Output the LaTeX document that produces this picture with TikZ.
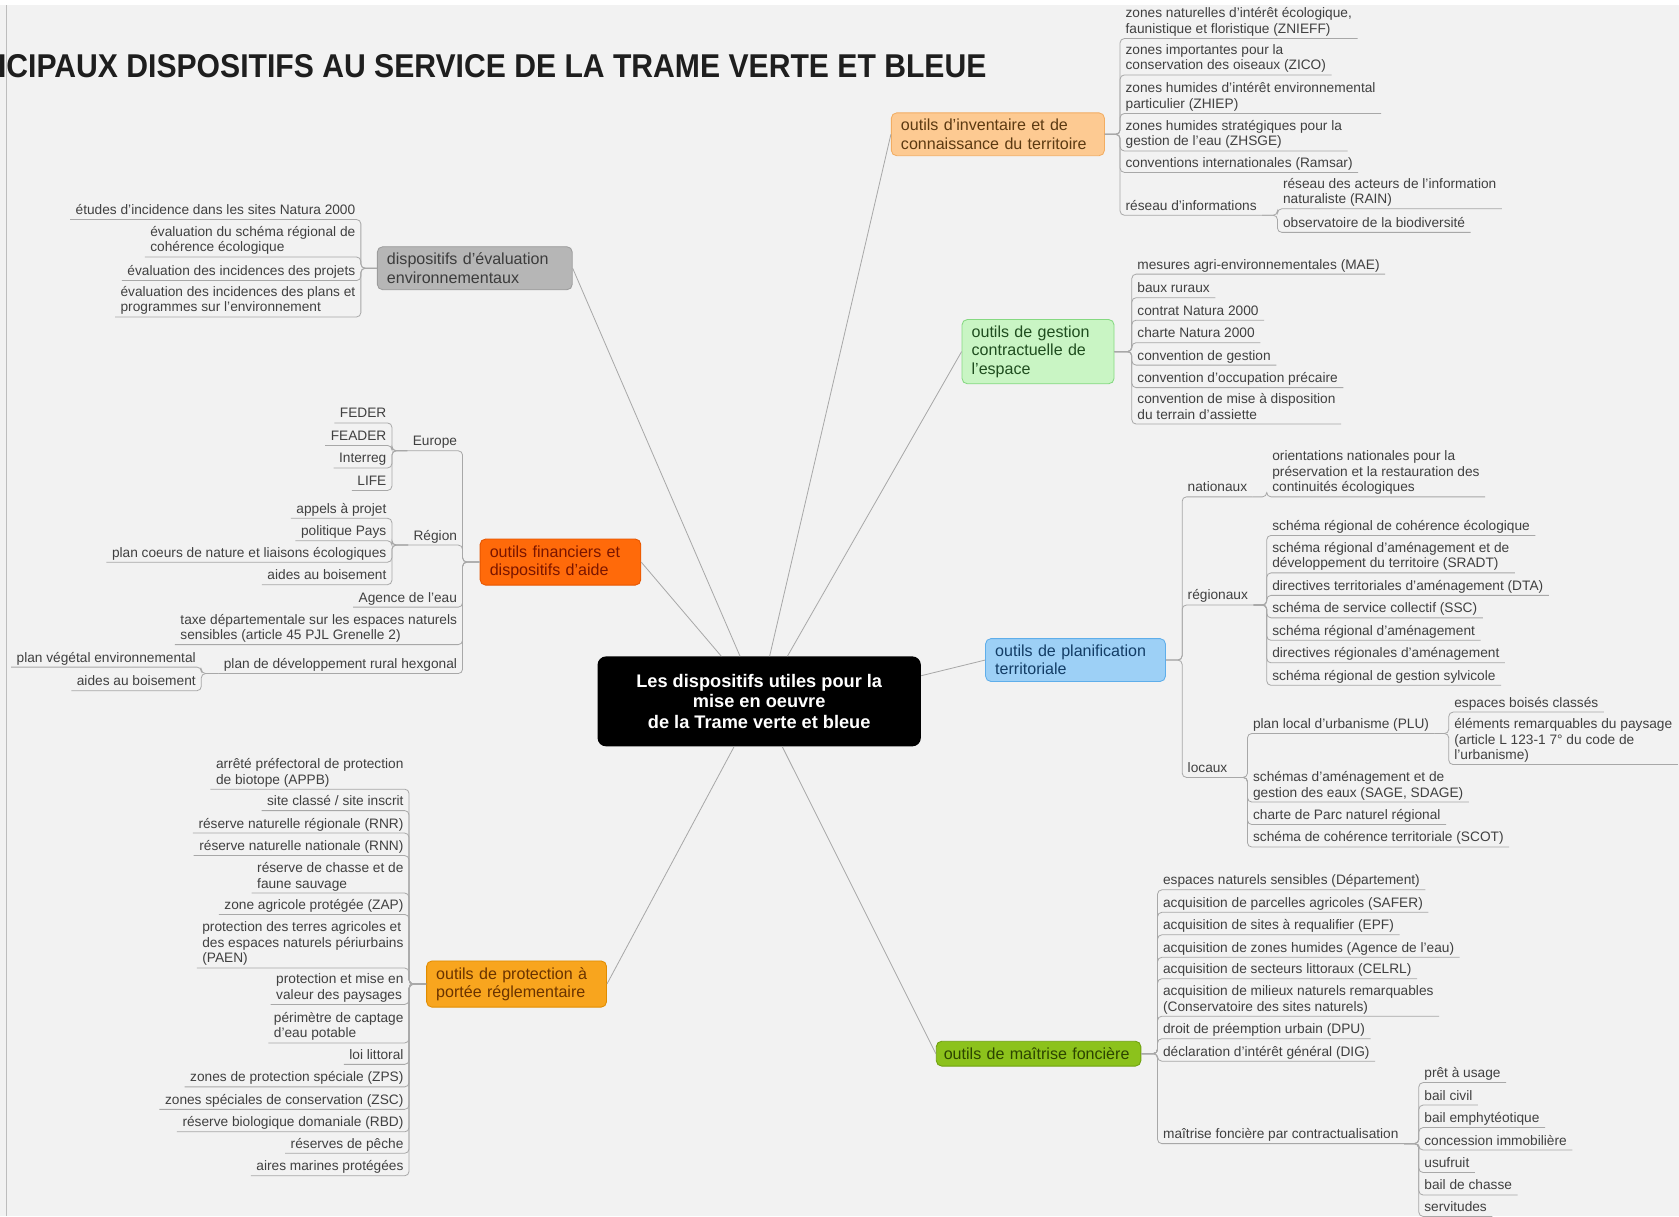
\documentclass[tikz,border=0pt]{standalone}
\usepackage{fontspec}
\usepackage{graphicx}
\setmainfont{Liberation Sans}
\usetikzlibrary{positioning}

\definecolor{bgfill}{HTML}{F2F2F2}
\definecolor{edgegray}{HTML}{BDBDBD}
\definecolor{linegray}{HTML}{A8A8A8}
\definecolor{leafgray}{HTML}{404040}
\definecolor{titlegray}{HTML}{1E1E1E}
\definecolor{evalfill}{HTML}{B6B6B6}
\definecolor{evaldraw}{HTML}{9C9C9C}
\definecolor{evaltext}{HTML}{3C3C3C}
\definecolor{invfill}{HTML}{FDCA92}
\definecolor{invdraw}{HTML}{F2AD62}
\definecolor{invtext}{HTML}{5C3A12}
\definecolor{gesfill}{HTML}{C9F5C4}
\definecolor{gesdraw}{HTML}{86D982}
\definecolor{gestext}{HTML}{1F4D1F}
\definecolor{finfill}{HTML}{FF6A0A}
\definecolor{findraw}{HTML}{E65500}
\definecolor{fintext}{HTML}{7A1500}
\definecolor{plafill}{HTML}{9DD0F6}
\definecolor{pladraw}{HTML}{5FAEEA}
\definecolor{platext}{HTML}{133D66}
\definecolor{profill}{HTML}{F8A51E}
\definecolor{prodraw}{HTML}{E08C00}
\definecolor{protext}{HTML}{6A3300}
\definecolor{maifill}{HTML}{8CC21C}
\definecolor{maidraw}{HTML}{6FA10E}
\definecolor{maitext}{HTML}{2C4500}

\newcommand{\leaffont}{\fontsize{12.8}{14.5}\selectfont}
\newcommand{\topicfont}{\fontsize{15}{17}\selectfont\hyphenpenalty=10000}
\newcommand{\rootfont}{\fontsize{17}{19.5}\selectfont\bfseries}

\tikzset{
  leafR/.style={anchor=south west, align=left, font=\leaffont, text=leafgray,
    inner xsep=5pt, inner ysep=1.5pt, text depth=3pt},
  leafL/.style={leafR, anchor=south east},
  topic/.style={anchor=north west, align=left, font=\topicfont, rounded corners=5pt,
    inner xsep=9pt, inner ysep=6pt, line width=0.8pt},
  root/.style={fill=black, text=white, align=center, font=\rootfont, rounded corners=8pt,
    minimum width=302pt, minimum height=84pt},
  br/.style={draw=linegray, line width=0.75pt, rounded corners=4pt},
  link/.style={draw=linegray, line width=0.75pt},
}

\begin{document}
\begin{tikzpicture}[x=1pt, y=-1pt]
  \useasboundingbox (0,0) rectangle (1568,1136);
  \fill[bgfill] (0,0) rectangle (1568,1136);
  \fill[white] (0,0) rectangle (1568,5);
  \draw[edgegray, line width=1pt] (6,5) -- (6,1136);

  \node[anchor=base west, inner sep=0pt, text=titlegray] (title) at (-2,72)
    {\resizebox{923pt}{21.5pt}{\bfseries ICIPAUX DISPOSITIFS AU SERVICE DE LA TRAME VERTE ET BLEUE}};

  \node[root] (ctr) at (709,655) {Les dispositifs utiles pour la\\mise en oeuvre\\de la Trame verte et bleue};

  \node[topic, fill=evalfill, draw=evaldraw, text=evaltext, text width=164pt] (eval) at (352,230)
    {dispositifs d'évaluation\\environnementaux};
  \node[topic, fill=invfill, draw=invdraw, text=invtext, text width=181pt] (inv) at (832,105)
    {outils d'inventaire et de\\connaissance du territoire};
  \node[topic, fill=gesfill, draw=gesdraw, text=gestext, text width=124pt] (ges) at (898,298)
    {outils de gestion\\contractuelle de\\l'espace};
  \node[topic, fill=finfill, draw=findraw, text=fintext, text width=132pt] (fin) at (448,503)
    {outils financiers et\\dispositifs d'aide};
  \node[topic, fill=plafill, draw=pladraw, text=platext, text width=150pt] (pla) at (920,596)
    {outils de planification\\territoriale};
  \node[topic, fill=profill, draw=prodraw, text=protext, text width=150pt] (pro) at (398,897)
    {outils de protection à\\portée réglementaire};
  \node[topic, fill=maifill, draw=maidraw, text=maitext, text width=177pt, inner xsep=7pt] (mai) at (874,972)
    {outils de maîtrise foncière};

  \draw[link] (ctr.113) -- (eval.east);
  \draw[link] (ctr.130) -- (fin.east);
  \draw[link] (ctr.77) -- (inv.west);
  \draw[link] (ctr.58) -- (ges.west);
  \draw[link] (ctr.9) -- (pla.west);
  \draw[link] (ctr.297) -- (mai.west);
  \draw[link] (ctr.241) -- (pro.east);

  \node[leafL] (etud) at (337,205) {études d'incidence dans les sites Natura 2000};
  \node[leafL] (evsrce) at (337,240) {évaluation du schéma régional de\\cohérence écologique};
  \node[leafL] (evproj) at (337,262) {évaluation des incidences des projets};
  \node[leafL] (evplan) at (337,296) {évaluation des incidences des plans et\\programmes sur l'environnement};
  \foreach \n in {etud,evsrce,evproj,evplan}
    \draw[br] (eval.west) -| (\n.south east) -- (\n.south west);

  \node[leafR] (znieff) at (1046,36) {zones naturelles d'intérêt écologique,\\faunistique et floristique (ZNIEFF)};
  \node[leafR] (zico) at (1046,70) {zones importantes pour la\\conservation des oiseaux (ZICO)};
  \node[leafR] (zhiep) at (1046,106) {zones humides d'intérêt environnemental\\particulier (ZHIEP)};
  \node[leafR] (zhsge) at (1046,141) {zones humides stratégiques pour la\\gestion de l'eau (ZHSGE)};
  \node[leafR] (ramsar) at (1046,161) {conventions internationales (Ramsar)};
  \node[leafR] (rinfo) at (1046,201) {réseau d'informations};
  \node[leafR] (rain) at (1193,195) {réseau des acteurs de l'information\\naturaliste (RAIN)};
  \node[leafR] (obs) at (1193,217) {observatoire de la biodiversité};
  \foreach \n in {znieff,zico,zhiep,zhsge,ramsar,rinfo}
    \draw[br] (inv.east) -| (\n.south west) -- (\n.south east);
  \foreach \n in {rain,obs}
    \draw[br] (rinfo.south east) -| (\n.south west) -- (\n.south east);

  \node[leafR] (mae) at (1057,256) {mesures agri-environnementales (MAE)};
  \node[leafR] (baux) at (1057,278) {baux ruraux};
  \node[leafR] (contrat) at (1057,299) {contrat Natura 2000};
  \node[leafR] (charte) at (1057,320) {charte Natura 2000};
  \node[leafR] (cgest) at (1057,341) {convention de gestion};
  \node[leafR] (cocc) at (1057,362) {convention d'occupation précaire};
  \node[leafR] (cmad) at (1057,396) {convention de mise à disposition\\du terrain d'assiette};
  \foreach \n in {mae,baux,contrat,charte,cgest,cocc,cmad}
    \draw[br] (ges.east) -| (\n.south west) -- (\n.south east);

  \node[leafL] (eur) at (432,421) {Europe};
  \node[leafL] (feder) at (366,395) {FEDER};
  \node[leafL] (feader) at (366,416) {FEADER};
  \node[leafL] (interreg) at (366,437) {Interreg};
  \node[leafL] (life) at (366,458) {LIFE};
  \node[leafL] (region) at (432,509) {Région};
  \node[leafL] (appels) at (366,484) {appels à projet};
  \node[leafL] (pays) at (366,505) {politique Pays};
  \node[leafL] (coeurs) at (366,525) {plan coeurs de nature et liaisons écologiques};
  \node[leafL] (boisreg) at (366,546) {aides au boisement};
  \node[leafL] (agence) at (432,567) {Agence de l'eau};
  \node[leafL] (taxe) at (432,602) {taxe départementale sur les espaces naturels\\sensibles (article 45 PJL Grenelle 2)};
  \node[leafL] (pdrh) at (432,629) {plan de développement rural hexgonal};
  \node[leafL] (pve) at (188,623) {plan végétal environnemental};
  \node[leafL] (boispdr) at (188,645) {aides au boisement};
  \foreach \n in {eur,region,agence,taxe,pdrh}
    \draw[br] (fin.west) -| (\n.south east) -- (\n.south west);
  \foreach \n in {feder,feader,interreg,life}
    \draw[br] (eur.south west) -| (\n.south east) -- (\n.south west);
  \foreach \n in {appels,pays,coeurs,boisreg}
    \draw[br] (region.south west) -| (\n.south east) -- (\n.south west);
  \foreach \n in {pve,boispdr}
    \draw[br] (pdrh.south west) -| (\n.south east) -- (\n.south west);

  \node[leafR] (nat) at (1104,464) {nationaux};
  \node[leafR] (orient) at (1183,464) {orientations nationales pour la\\préservation et la restauration des\\continuités écologiques};
  \node[leafR] (regx) at (1104,565) {régionaux};
  \node[leafR] (srce) at (1183,500) {schéma régional de cohérence écologique};
  \node[leafR] (sradt) at (1183,535) {schéma régional d'aménagement et de\\développement du territoire (SRADT)};
  \node[leafR] (dta) at (1183,556) {directives territoriales d'aménagement (DTA)};
  \node[leafR] (ssc) at (1183,577) {schéma de service collectif (SSC)};
  \node[leafR] (sra) at (1183,598) {schéma régional d'aménagement};
  \node[leafR] (dra) at (1183,619) {directives régionales d'aménagement};
  \node[leafR] (srgs) at (1183,640) {schéma régional de gestion sylvicole};
  \node[leafR] (loc) at (1104,726) {locaux};
  \node[leafR] (plu) at (1165,685) {plan local d'urbanisme (PLU)};
  \node[leafR] (ebc) at (1353,665) {espaces boisés classés};
  \node[leafR] (erp) at (1353,714) {éléments remarquables du paysage\\(article L 123-1 7° du code de\\l'urbanisme)};
  \node[leafR] (sage) at (1165,749) {schémas d'aménagement et de\\gestion des eaux (SAGE, SDAGE)};
  \node[leafR] (pnr) at (1165,770) {charte de Parc naturel régional};
  \node[leafR] (scot) at (1165,791) {schéma de cohérence territoriale (SCOT)};
  \foreach \n in {nat,regx,loc}
    \draw[br] (pla.east) -| (\n.south west) -- (\n.south east);
  \draw[br] (nat.south east) -| (orient.south west) -- (orient.south east);
  \foreach \n in {srce,sradt,dta,ssc,sra,dra,srgs}
    \draw[br] (regx.south east) -| (\n.south west) -- (\n.south east);
  \foreach \n in {plu,sage,pnr,scot}
    \draw[br] (loc.south east) -| (\n.south west) -- (\n.south east);
  \foreach \n in {ebc,erp}
    \draw[br] (plu.south east) -| (\n.south west) -- (\n.south east);

  \node[leafL] (appb) at (382,737) {arrêté préfectoral de protection\\de biotope (APPB)};
  \node[leafL] (site) at (382,757) {site classé / site inscrit};
  \node[leafL] (rnr) at (382,778) {réserve naturelle régionale (RNR)};
  \node[leafL] (rnn) at (382,799) {réserve naturelle nationale (RNN)};
  \node[leafL] (rcfs) at (382,834) {réserve de chasse et de\\faune sauvage};
  \node[leafL] (zap) at (382,854) {zone agricole protégée (ZAP)};
  \node[leafL] (paen) at (382,904) {protection des terres agricoles et\\des espaces naturels périurbains\\(PAEN)};
  \node[leafL] (pmvp) at (382,938) {protection et mise en\\valeur des paysages};
  \node[leafL] (pcap) at (382,974) {périmètre de captage\\d'eau potable};
  \node[leafL] (loi) at (382,994) {loi littoral};
  \node[leafL] (zps) at (382,1015) {zones de protection spéciale (ZPS)};
  \node[leafL] (zsc) at (382,1036) {zones spéciales de conservation (ZSC)};
  \node[leafL] (rbd) at (382,1057) {réserve biologique domaniale (RBD)};
  \node[leafL] (peche) at (382,1077) {réserves de pêche};
  \node[leafL] (amp) at (382,1098) {aires marines protégées};
  \foreach \n in {appb,site,rnr,rnn,rcfs,zap,paen,pmvp,pcap,loi,zps,zsc,rbd,peche,amp}
    \draw[br] (pro.west) -| (\n.south east) -- (\n.south west);

  \node[leafR] (ens) at (1081,831) {espaces naturels sensibles (Département)};
  \node[leafR] (safer) at (1081,852) {acquisition de parcelles agricoles (SAFER)};
  \node[leafR] (epf) at (1081,873) {acquisition de sites à requalifier (EPF)};
  \node[leafR] (acqzh) at (1081,894) {acquisition de zones humides (Agence de l'eau)};
  \node[leafR] (celrl) at (1081,914) {acquisition de secteurs littoraux (CELRL)};
  \node[leafR] (csn) at (1081,949) {acquisition de milieux naturels remarquables\\(Conservatoire des sites naturels)};
  \node[leafR] (dpu) at (1081,970) {droit de préemption urbain (DPU)};
  \node[leafR] (dig) at (1081,991) {déclaration d'intérêt général (DIG)};
  \node[leafR] (mfc) at (1081,1068) {maîtrise foncière par contractualisation};
  \node[leafR] (pret) at (1325,1011) {prêt à usage};
  \node[leafR] (bcivil) at (1325,1032) {bail civil};
  \node[leafR] (emph) at (1325,1053) {bail emphytéotique};
  \node[leafR] (conc) at (1325,1074) {concession immobilière};
  \node[leafR] (usuf) at (1325,1095) {usufruit};
  \node[leafR] (bchasse) at (1325,1116) {bail de chasse};
  \node[leafR] (serv) at (1325,1136) {servitudes};
  \foreach \n in {ens,safer,epf,acqzh,celrl,csn,dpu,dig,mfc}
    \draw[br] (mai.east) -| (\n.south west) -- (\n.south east);
  \foreach \n in {pret,bcivil,emph,conc,usuf,bchasse,serv}
    \draw[br] (mfc.south east) -| (\n.south west) -- (\n.south east);
\end{tikzpicture}
\end{document}
